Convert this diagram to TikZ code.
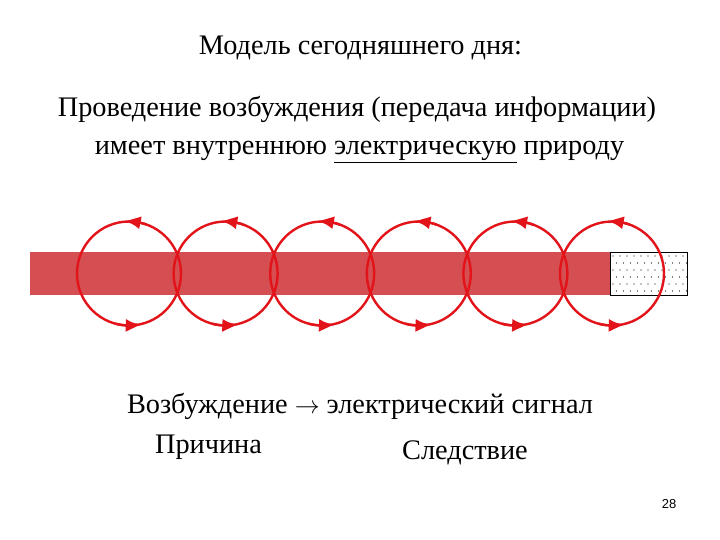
\documentclass[tikz,border=0pt]{standalone}
\usepackage{fontspec}
\setmainfont{Liberation Serif}
\newfontfamily\numfont{Liberation Sans}
\usetikzlibrary{arrows.meta,bending}
\definecolor{ringred}{RGB}{226,20,26}
\definecolor{barred}{RGB}{212,78,82}
\tikzset{
  txt/.style={anchor=base, inner sep=0pt, font=\fontsize{28.3}{32}\selectfont},
  ring/.style={draw=ringred, line width=2.4pt},
  tip/.style={draw=ringred, line width=2.4pt, -{Latex[length=16pt,width=13pt,bend]}},
}
\begin{document}
\begin{tikzpicture}[x=1pt,y=-1pt]
\useasboundingbox[fill=white] (0,0) rectangle (720,540);
% texts
\node[txt] (title) at (360.5,55) {Модель сегодняшнего дня:};
\node[txt] (l1) at (357,117) {Проведение возбуждения (передача информации)};
\node[txt] (l2) at (359.5,155) {имеет внутреннюю \underline{электрическую} природу};
\node[txt] (l3) at (360,413) {Возбуждение $\rightarrow$ электрический сигнал};
\node[txt] (cause) at (208.5,453) {Причина};
\node[txt] (effect) at (465,459) {Следствие};
\node[anchor=base, inner sep=0pt, font=\numfont\fontsize{13}{15}\selectfont] (num) at (669,508) {28};
% bar
\fill[barred] (30,252) rectangle (610,295);
\node[draw=black, line width=0.8pt, fill=white, inner sep=0pt, minimum width=77pt, minimum height=43pt, anchor=north west] (rest) at (610,252) {};
\foreach \i in {0,...,10} {
  \foreach \j in {0,...,5} {
    \pgfmathsetmacro{\xx}{613+7*\i+3.5*mod(\j,2)}
    \pgfmathsetmacro{\yy}{256+7*\j}
    \fill[black] (\xx,\yy) circle (0.6pt);
  }
}
% rings (angles are mirrored because y points down)
\foreach \k in {0,...,5} {
  \pgfmathsetmacro{\cx}{129+96.6*\k}
  \coordinate (c\k) at (\cx,273.5);
  \draw[ring] (c\k) circle (52);
  \draw[tip] (c\k) ++(-70:52) arc (-70:-95:52);
  \draw[tip] (c\k) ++(-255:52) arc (-255:-284:52);
}
\end{tikzpicture}
\end{document}
